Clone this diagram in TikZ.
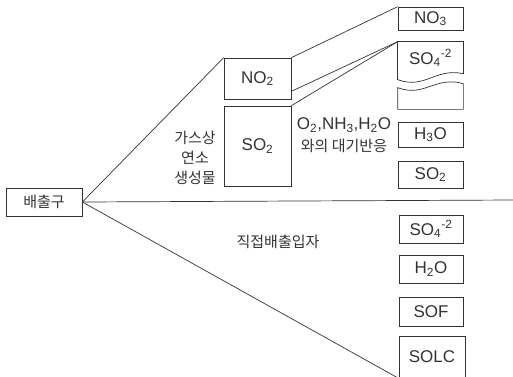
\documentclass[tikz,border=0pt]{standalone}
\usepackage{fontspec}
\setmainfont{Liberation Sans}
\newfontfamily\krfont{Noto Sans CJK KR}
\usetikzlibrary{calc}

\begin{document}
\begin{tikzpicture}[x=1pt,y=-1pt,line width=0.7pt,color=black!80,
  box/.style={draw,inner sep=0pt,minimum width=65pt},
  chem/.style={font=\fontsize{17}{19}\selectfont},
  kr/.style={font=\krfont\fontsize{15}{20}\selectfont}]
  \clip (0,0) rectangle (513,376);
  % Source and the gas phase products.
  \node[box,kr,minimum width=76pt,minimum height=28pt] (src) at (44,202) {배출구};
  \node[box,chem,minimum width=67pt,minimum height=41pt] (no2) at (257.5,78.5) {NO\textsubscript{2}};
  \node[box,chem,minimum width=67pt,minimum height=80pt] (so2) at (257.5,146) {SO\textsubscript{2}};
  \node[kr,align=center] (gas) at (195,158) {가스상\\연소\\생성물};
  \node[chem] (react) at (344,125) {O\textsubscript{2},NH\textsubscript{3},H\textsubscript{2}O};
  \node[kr] (react2) at (344,146) {와의 대기반응};
  \node[kr] (direct) at (278,242) {직접배출입자};
  % Right column, upper half.
  \node[box,chem,minimum height=23pt] (no3) at (430.5,18.5) {NO\textsubscript{3}};
  \node[minimum width=65pt,minimum height=67pt,inner sep=0pt] (so4) at (430.5,75.5) {};
  \node[chem] (so4t) at (430.5,58) {SO\textsubscript{4}\textsuperscript{-2}};
  \draw ($(so4.north west)+(0,38)$) -- (so4.north west) -- (so4.north east) -- ($(so4.north east)+(0,32)$);
  \draw ($(so4.north west)+(0,38)$) .. controls +(27,10) and +(-28,-6) .. ($(so4.north east)+(0,32)$);
  \draw ($(so4.north west)+(0,46)$) .. controls +(27,10) and +(-28,-8) .. ($(so4.north east)+(0,42)$)
    -- (so4.south east) -- (so4.south west) -- cycle;
  \node[box,chem,minimum height=25pt] (h3o) at (430.5,134.5) {H\textsubscript{3}O};
  \node[box,chem,minimum height=27pt] (so2r) at (430.5,174.5) {SO\textsubscript{2}};
  % Right column, lower half.
  \node[box,chem,minimum width=64pt,minimum height=28pt] (so4p) at (431,229) {SO\textsubscript{4}\textsuperscript{-2}};
  \node[box,chem,minimum width=64pt,minimum height=28pt] (h2o) at (431,269) {H\textsubscript{2}O};
  \node[box,chem,minimum width=64pt,minimum height=29pt] (sof) at (431,311.5) {SOF};
  \node[box,chem,minimum width=66pt,minimum height=42pt] (solc) at (432,357) {SOLC};
  % Connectors.
  \coordinate (edge) at (513,200);
  \draw (src.east) -- (no2.north west);
  \draw (src.east) -- (edge);
  \draw (src.east) -- (solc.south west);
  \draw (no2.north east) -- (no3.north west);
  \draw ($(no2.south east)+(0,-8)$) -- (so4.north west);
  \draw (so2.north east) -- (so4.north west);
\end{tikzpicture}
\end{document}
